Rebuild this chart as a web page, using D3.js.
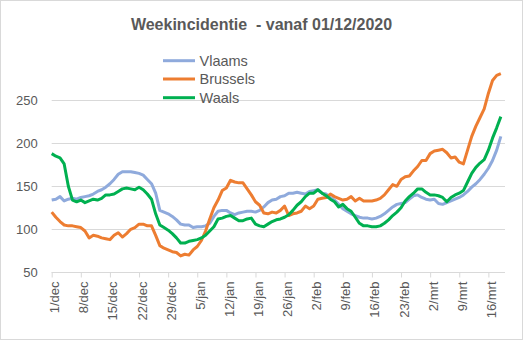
<!DOCTYPE html>
<html>
<head>
<meta charset="utf-8">
<script src="https://cdn.jsdelivr.net/npm/d3@7"></script>
<style>
  html, body { margin: 0; padding: 0; background: #fff; }
  svg { display: block; }
  text { font-family: "Liberation Sans", Arial, sans-serif; fill: #595959; }
</style>
</head>
<body>
<svg id="chart" width="523" height="340"></svg>
<script>
// ---- data (daily values, 1 Dec 2020 .. 19 Mar 2021) ----
const startDate = "2020-12-01";
const seriesNames = ["Vlaams", "Brussels", "Waals"];
const seriesColors = ["#8FAADC", "#ED7D31", "#00B050"];

const vlaams = [
  134,135,138,133,135,136,135,137,138,139,141,144,146,149,153,158,164,167,167,167,
  166,165,163,158,153,142,122,120,118,115,111,106,105,105,102,103,103,104,107,115,
  121,122,122,119,117,119,120,121,121,120,122,126,131,134,135,138,139,142,142,143,
  142,141,144,145,146,142,141,137,134,129,124,121,118,116,114,113,113,112,113,115,
  118,122,126,129,130,131,135,139,140,137,135,134,135,130,129,131,133,135,137,140,
  144,149,153,158,164,171,180,192,208
];
const brussels = [
  120,114,109,105,104,104,103,102,98,90,93,92,90,89,88,93,96,91,95,100,
  102,106,106,104,104,93,81,78,76,74,73,69,71,70,76,80,87,98,112,125,
  134,145,148,157,155,154,154,147,140,132,128,119,118,120,119,122,127,116,118,119,
  121,127,124,127,135,136,137,141,138,136,134,135,138,133,136,133,133,133,134,136,
  140,146,152,150,158,161,162,168,173,180,180,188,191,192,193,189,183,184,178,176,
  192,208,220,230,240,258,273,279,281
];
const waals = [
  188,185,183,176,150,134,132,134,131,133,135,134,136,140,140,141,144,147,148,147,
  146,149,146,141,135,118,105,102,99,95,90,84,84,86,87,88,90,93,98,103,
  112,113,115,116,113,110,110,112,113,106,104,103,106,109,111,112,114,117,122,128,
  132,138,142,142,146,142,139,135,132,126,129,124,121,114,107,104,104,103,103,104,
  107,111,116,120,125,133,138,142,147,147,143,140,140,139,137,132,137,140,142,145,
  155,165,172,177,181,192,206,218,231
];
const yTicks = [50, 100, 150, 200, 250];
const xTickLabels = ["1/dec","8/dec","15/dec","22/dec","29/dec","5/jan","12/jan","19/jan",
  "26/jan","2/feb","9/feb","16/feb","23/feb","2/mrt","9/mrt","16/mrt"];
const titleText = "Weekincidentie  - vanaf 01/12/2020";

// ---- layout ----
const svg = d3.select("#chart");
const W = 523, H = 340;
const mLeft = 51.7, mRight = 505, mTop = 57.3, mBottom = 272.3;
const nDays = 109;

svg.append("rect").attr("x", 0.5).attr("y", 0.5).attr("width", W - 1).attr("height", H - 1)
  .attr("fill", "#fff").attr("stroke", "#d9d9d9");

const x = d3.scaleLinear().domain([0, nDays]).range([mLeft, mRight]);
const y = d3.scaleLinear().domain([50, 300]).range([mBottom, mTop]);

// gridlines
svg.append("g").selectAll("line").data(yTicks).join("line")
  .attr("x1", mLeft).attr("x2", mRight)
  .attr("y1", d => Math.round(y(d)) + 0.5).attr("y2", d => Math.round(y(d)) + 0.5)
  .attr("stroke", "#d9d9d9").attr("stroke-width", 1);

// y axis labels
const yAxis = d3.axisLeft(y).tickValues(yTicks).tickSize(0).tickPadding(0).tickFormat(d3.format("d"));
const gy = svg.append("g").attr("transform", `translate(${mLeft - 14},0)`).call(yAxis);
gy.select(".domain").remove();
gy.selectAll("text").attr("font-size", 13).attr("fill", "#595959")
  .attr("font-family", "Liberation Sans, Arial, sans-serif");

// x axis ticks + labels
const tickDays = xTickLabels.map((_, i) => i * 7);
const xAxis = d3.axisBottom(x).tickValues(tickDays).tickSize(5).tickFormat((d, i) => xTickLabels[i]);
const gx = svg.append("g").attr("transform", `translate(0,${Math.round(mBottom) + 0.5})`).call(xAxis);
gx.select(".domain").attr("stroke", "#d9d9d9").attr("d", `M${mLeft},0H${mRight}`);
gx.selectAll(".tick line").attr("stroke", "#d9d9d9");
gx.selectAll(".tick text")
  .attr("font-size", 13).attr("fill", "#595959")
  .attr("font-family", "Liberation Sans, Arial, sans-serif")
  .attr("text-anchor", "end")
  .attr("dy", null).attr("y", 0)
  .attr("transform", "translate(7,9) rotate(-90)");

// lines
const seriesData = [vlaams, brussels, waals];
const line = d3.line().x((d, i) => x(i)).y(d => y(d));
svg.append("g").selectAll("path").data(seriesData).join("path")
  .attr("d", d => line(d))
  .attr("fill", "none")
  .attr("stroke", (d, i) => seriesColors[i])
  .attr("stroke-width", 3)
  .attr("stroke-linejoin", "round");

// title
svg.append("text").attr("x", 261.5).attr("y", 30).attr("text-anchor", "middle")
  .attr("font-size", 16).attr("font-weight", "bold")
  .style("white-space", "pre").attr("xml:space", "preserve").text(titleText);

// legend
const legendY = [60.7, 79, 97.7];
const lg = svg.append("g");
seriesNames.forEach((name, i) => {
  lg.append("line").attr("x1", 163).attr("x2", 195).attr("y1", legendY[i]).attr("y2", legendY[i])
    .attr("stroke", seriesColors[i]).attr("stroke-width", 3);
  lg.append("text").attr("x", 199.5).attr("y", legendY[i] + 5).attr("font-size", 14.5).text(name);
});
</script>
</body>
</html>
